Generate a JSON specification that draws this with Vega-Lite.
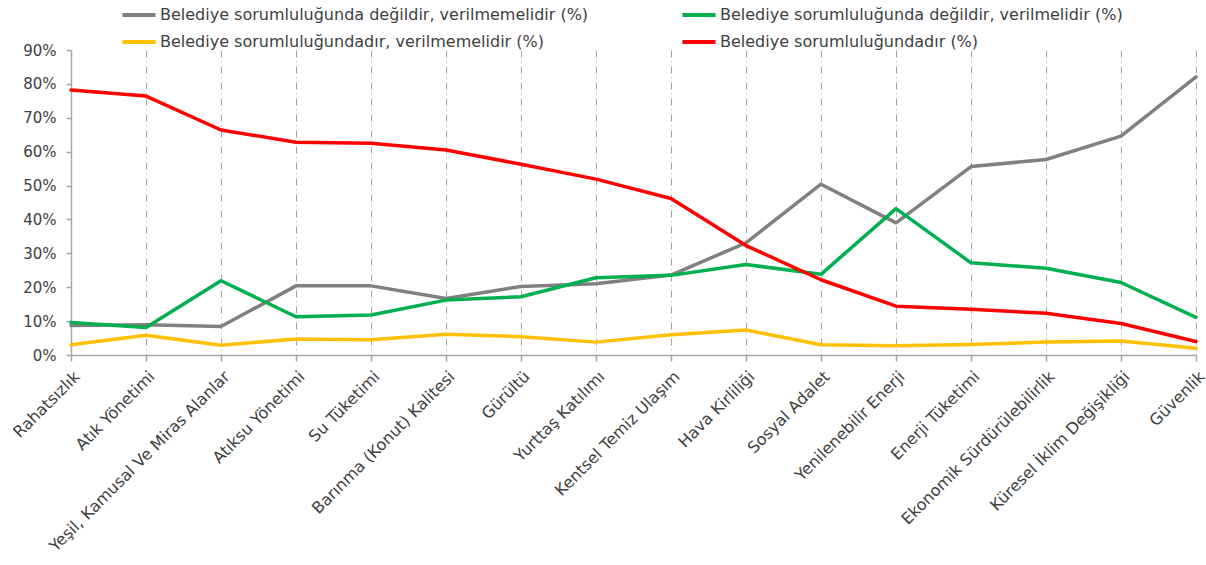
{
  "$schema": "https://vega.github.io/schema/vega-lite/v6.json",
  "width": 1125,
  "height": 305,
  "autosize": {"type": "none"},
  "padding": {"left": 71, "top": 50, "right": 10, "bottom": 210},
  "background": "white",
  "config": {
    "font": "DejaVu Sans",
    "view": {"stroke": null}
  },
  "data": {
    "values": [
      {"cat": "Rahatsızlık", "Belediye sorumluluğunda değildir, verilmemelidir (%)": 0.087, "Belediye sorumluluğunda değildir, verilmelidir (%)": 0.096, "Belediye sorumluluğundadır, verilmemelidir (%)": 0.030, "Belediye sorumluluğundadır (%)": 0.782},
      {"cat": "Atık Yönetimi", "Belediye sorumluluğunda değildir, verilmemelidir (%)": 0.089, "Belediye sorumluluğunda değildir, verilmelidir (%)": 0.081, "Belediye sorumluluğundadır, verilmemelidir (%)": 0.058, "Belediye sorumluluğundadır (%)": 0.764},
      {"cat": "Yeşil, Kamusal Ve Miras Alanlar", "Belediye sorumluluğunda değildir, verilmemelidir (%)": 0.084, "Belediye sorumluluğunda değildir, verilmelidir (%)": 0.219, "Belediye sorumluluğundadır, verilmemelidir (%)": 0.029, "Belediye sorumluluğundadır (%)": 0.664},
      {"cat": "Atıksu Yönetimi", "Belediye sorumluluğunda değildir, verilmemelidir (%)": 0.204, "Belediye sorumluluğunda değildir, verilmelidir (%)": 0.113, "Belediye sorumluluğundadır, verilmemelidir (%)": 0.047, "Belediye sorumluluğundadır (%)": 0.628},
      {"cat": "Su Tüketimi", "Belediye sorumluluğunda değildir, verilmemelidir (%)": 0.204, "Belediye sorumluluğunda değildir, verilmelidir (%)": 0.118, "Belediye sorumluluğundadır, verilmemelidir (%)": 0.045, "Belediye sorumluluğundadır (%)": 0.625},
      {"cat": "Barınma (Konut) Kalitesi", "Belediye sorumluluğunda değildir, verilmemelidir (%)": 0.167, "Belediye sorumluluğunda değildir, verilmelidir (%)": 0.162, "Belediye sorumluluğundadır, verilmemelidir (%)": 0.061, "Belediye sorumluluğundadır (%)": 0.605},
      {"cat": "Gürültü", "Belediye sorumluluğunda değildir, verilmemelidir (%)": 0.202, "Belediye sorumluluğunda değildir, verilmelidir (%)": 0.172, "Belediye sorumluluğundadır, verilmemelidir (%)": 0.054, "Belediye sorumluluğundadır (%)": 0.563},
      {"cat": "Yurttaş Katılımı", "Belediye sorumluluğunda değildir, verilmemelidir (%)": 0.210, "Belediye sorumluluğunda değildir, verilmelidir (%)": 0.228, "Belediye sorumluluğundadır, verilmemelidir (%)": 0.038, "Belediye sorumluluğundadır (%)": 0.519},
      {"cat": "Kentsel Temiz Ulaşım", "Belediye sorumluluğunda değildir, verilmemelidir (%)": 0.236, "Belediye sorumluluğunda değildir, verilmelidir (%)": 0.235, "Belediye sorumluluğundadır, verilmemelidir (%)": 0.060, "Belediye sorumluluğundadır (%)": 0.462},
      {"cat": "Hava Kirliliği", "Belediye sorumluluğunda değildir, verilmemelidir (%)": 0.331, "Belediye sorumluluğunda değildir, verilmelidir (%)": 0.267, "Belediye sorumluluğundadır, verilmemelidir (%)": 0.074, "Belediye sorumluluğundadır (%)": 0.323},
      {"cat": "Sosyal Adalet", "Belediye sorumluluğunda değildir, verilmemelidir (%)": 0.504, "Belediye sorumluluğunda değildir, verilmelidir (%)": 0.238, "Belediye sorumluluğundadır, verilmemelidir (%)": 0.030, "Belediye sorumluluğundadır (%)": 0.222},
      {"cat": "Yenilenebilir Enerji", "Belediye sorumluluğunda değildir, verilmemelidir (%)": 0.390, "Belediye sorumluluğunda değildir, verilmelidir (%)": 0.432, "Belediye sorumluluğundadır, verilmemelidir (%)": 0.027, "Belediye sorumluluğundadır (%)": 0.144},
      {"cat": "Enerji Tüketimi", "Belediye sorumluluğunda değildir, verilmemelidir (%)": 0.556, "Belediye sorumluluğunda değildir, verilmelidir (%)": 0.272, "Belediye sorumluluğundadır, verilmemelidir (%)": 0.031, "Belediye sorumluluğundadır (%)": 0.135},
      {"cat": "Ekonomik Sürdürülebilirlik", "Belediye sorumluluğunda değildir, verilmemelidir (%)": 0.577, "Belediye sorumluluğunda değildir, verilmelidir (%)": 0.256, "Belediye sorumluluğundadır, verilmemelidir (%)": 0.038, "Belediye sorumluluğundadır (%)": 0.123},
      {"cat": "Küresel İklim Değişikliği", "Belediye sorumluluğunda değildir, verilmemelidir (%)": 0.646, "Belediye sorumluluğunda değildir, verilmelidir (%)": 0.214, "Belediye sorumluluğundadır, verilmemelidir (%)": 0.041, "Belediye sorumluluğundadır (%)": 0.093},
      {"cat": "Güvenlik", "Belediye sorumluluğunda değildir, verilmemelidir (%)": 0.821, "Belediye sorumluluğunda değildir, verilmelidir (%)": 0.111, "Belediye sorumluluğundadır, verilmemelidir (%)": 0.020, "Belediye sorumluluğundadır (%)": 0.040}
    ]
  },
  "transform": [
    {"fold": ["Belediye sorumluluğunda değildir, verilmemelidir (%)", "Belediye sorumluluğunda değildir, verilmelidir (%)", "Belediye sorumluluğundadır, verilmemelidir (%)", "Belediye sorumluluğundadır (%)"], "as": ["series", "value"]}
  ],
  "mark": {"type": "line", "strokeWidth": 3.5, "strokeCap": "round", "strokeJoin": "round"},
  "encoding": {
    "x": {
      "field": "cat",
      "type": "nominal",
      "sort": null,
      "scale": {"type": "point", "padding": 0},
      "axis": {
        "title": null,
        "labelAngle": -45,
        "labelAlign": "right",
        "labelBaseline": "top",
        "labelFontSize": 16,
        "labelColor": "#404040",
        "labelPadding": 7,
        "labelDx": -6,
        "labelLimit": 400,
        "labelOverlap": false,
        "domainColor": "#a6a6a6",
        "domainWidth": 1.5,
        "tickColor": "#a6a6a6",
        "tickWidth": 1.5,
        "tickSize": 6,
        "grid": true,
        "gridColor": "#a6a6a6",
        "gridDash": [7, 4, 1, 4],
        "gridWidth": 1
      }
    },
    "y": {
      "field": "value",
      "type": "quantitative",
      "scale": {"domain": [0, 0.9], "nice": false},
      "axis": {
        "title": null,
        "values": [0, 0.1, 0.2, 0.3, 0.4, 0.5, 0.6, 0.7, 0.8, 0.9],
        "format": ".0%",
        "grid": false,
        "labelFontSize": 15,
        "labelColor": "#404040",
        "labelPadding": 10,
        "domainColor": "#a6a6a6",
        "domainWidth": 1.5,
        "tickColor": "#a6a6a6",
        "tickWidth": 1.5,
        "tickSize": 5
      }
    },
    "color": {
      "field": "series",
      "type": "nominal",
      "sort": null,
      "scale": {
        "domain": ["Belediye sorumluluğunda değildir, verilmemelidir (%)", "Belediye sorumluluğunda değildir, verilmelidir (%)", "Belediye sorumluluğundadır, verilmemelidir (%)", "Belediye sorumluluğundadır (%)"],
        "range": ["#808080", "#00b050", "#ffc000", "#ff0000"]
      },
      "legend": {
        "title": null,
        "orient": "none",
        "direction": "horizontal",
        "legendX": 49,
        "legendY": -54,
        "columns": 2,
        "columnPadding": 85,
        "rowPadding": -3,
        "symbolType": "stroke",
        "symbolStrokeWidth": 4,
        "symbolSize": 1100,
        "labelFontSize": 16,
        "labelColor": "#404040",
        "labelOffset": 2,
        "labelLimit": 600
      }
    }
  }
}
